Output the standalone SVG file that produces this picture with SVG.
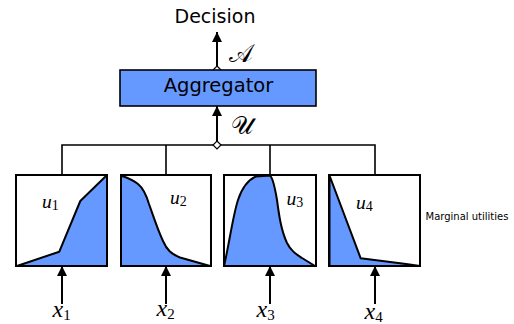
<svg xmlns="http://www.w3.org/2000/svg" width="514" height="324" viewBox="0 0 514 324">
<defs>
<marker id="ah" viewBox="0 0 10 12" refX="10" refY="6" markerWidth="10" markerHeight="12" markerUnits="userSpaceOnUse" orient="auto">
<path d="M0,1 L10,6 L0,11 Z" fill="#000"/>
</marker>
</defs>
<style>
.sans{font-family:"DejaVu Sans","Liberation Sans",sans-serif;fill:#000}
.math{font-family:"Liberation Serif","DejaVu Serif",serif;font-style:italic;fill:#000}
.cal{font-family:"DejaVu Serif","DejaVu Sans",serif;font-style:normal;fill:#000}
.sub{font-style:normal}
.box{fill:#fff;stroke:#000;stroke-width:2}
.curve{fill:#6699ff;stroke:#000;stroke-width:2;stroke-linejoin:round}
.line{fill:none;stroke:#000;stroke-width:1.6}
.arrow{fill:none;stroke:#000;stroke-width:2;marker-end:url(#ah)}
.dia{fill:#fff;stroke:#000;stroke-width:1.2}
</style>
<g id="connectors">
<line class="arrow" x1="217" y1="66" x2="217" y2="32"/>
<line class="arrow" x1="217" y1="141" x2="217" y2="106"/>
<polyline class="line" points="62,175 62,145 375,145 375,175"/>
<line class="line" x1="166" y1="145" x2="166" y2="175"/>
<line class="line" x1="270" y1="145" x2="270" y2="175"/>
<line class="arrow" x1="62" y1="304" x2="62" y2="266"/>
<line class="arrow" x1="166" y1="304" x2="166" y2="266"/>
<line class="arrow" x1="270" y1="304" x2="270" y2="266"/>
<line class="arrow" x1="375" y1="304" x2="375" y2="266"/>
<path class="dia" d="M217,66 L221,70 L217,74 L213,70 Z"/>
<path class="dia" d="M217,141 L221,145 L217,149 L213,145 Z"/>
<text class="cal" x="229" y="61.5" font-size="25">𝒜</text>
<text class="cal" x="231" y="134" font-size="25">𝒰</text>
</g>
<g id="decision">
<text class="sans" x="215" y="22.7" font-size="19" text-anchor="middle">Decision</text>
</g>
<g id="aggregator">
<rect x="120" y="70" width="196" height="36" fill="#6699ff" stroke="#000" stroke-width="1.6"/>
<text class="sans" x="218.5" y="91.7" font-size="19.5" text-anchor="middle">Aggregator</text>
</g>
<g id="u1">
<rect class="box" x="16" y="175" width="91" height="91"/>
<path class="curve" d="M17,266 L59.3,251.7 L80.3,201 L106,176 L107,176 L107,266 Z"/>
<rect x="16" y="175" width="91" height="91" fill="none" stroke="#000" stroke-width="2"/>
<text class="math" x="42" y="207.5" font-size="19.5">u<tspan class="sub" font-size="14" dy="2">1</tspan></text>
</g>
<g id="u2">
<rect class="box" x="121" y="175" width="90" height="91"/>
<path class="curve" d="M121,175.5 C128,178 133,180 138,184 C143,188 146,194 149,204 C153,215 157,228 163,241 C167,250 171,254 180,257.5 L203,264 L210,266 L121,266 Z"/>
<rect x="121" y="175" width="90" height="91" fill="none" stroke="#000" stroke-width="2"/>
<text class="math" x="170" y="203.5" font-size="19.5">u<tspan class="sub" font-size="14" dy="2">2</tspan></text>
</g>
<g id="u3">
<rect class="box" x="224" y="175" width="92" height="91"/>
<path class="curve" d="M224,266 C229,245 233,215 238,200 C242,188 248,180 256,176.5 L270,175.5 C273,178 275,188 277,200 C279,215 281,230 287,243 C291,251 296,254 302,258 L315,266 Z"/>
<rect x="224" y="175" width="92" height="91" fill="none" stroke="#000" stroke-width="2"/>
<text class="math" x="286.5" y="205" font-size="19.5">u<tspan class="sub" font-size="14" dy="2">3</tspan></text>
</g>
<g id="u4">
<rect class="box" x="329" y="175" width="91" height="91"/>
<path class="curve" d="M329.5,175.5 L360.7,258.3 L406,264 L420,266 L329.5,266 Z"/>
<rect x="329" y="175" width="91" height="91" fill="none" stroke="#000" stroke-width="2"/>
<text class="math" x="356" y="209" font-size="19.5">u<tspan class="sub" font-size="14" dy="2">4</tspan></text>
</g>
<g id="marginal">
<text class="sans" x="425.5" y="219.5" font-size="10">Marginal utilities</text>
</g>
<g id="inputs">
<text class="math" x="52.5" y="317" font-size="24">x<tspan class="sub" font-size="15" dy="3">1</tspan></text>
<text class="math" x="156.5" y="316" font-size="24">x<tspan class="sub" font-size="15" dy="3">2</tspan></text>
<text class="math" x="256.5" y="317" font-size="24">x<tspan class="sub" font-size="15" dy="3">3</tspan></text>
<text class="math" x="364.5" y="319" font-size="24">x<tspan class="sub" font-size="15" dy="3">4</tspan></text>
</g>
</svg>
